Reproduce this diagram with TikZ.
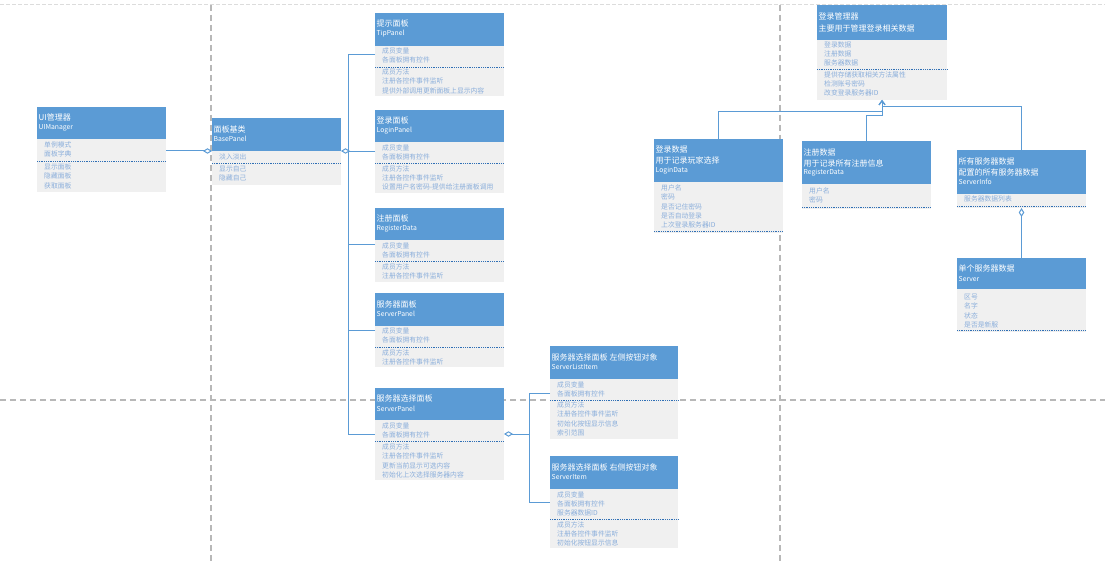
\documentclass[tikz,border=0pt]{standalone}
\usepackage{fontspec}
\setmainfont{Noto Sans CJK SC}
\usetikzlibrary{arrows.meta,calc}
\definecolor{hblue}{HTML}{5B9BD5}
\definecolor{bgray}{HTML}{F0F0F0}
\definecolor{btext}{HTML}{8AAEDB}
\definecolor{sepblue}{HTML}{2F6FB5}
\definecolor{dgray}{HTML}{B8B8B8}
\definecolor{lgray}{HTML}{DCDCDC}
\tikzset{
 hdr/.style={fill=hblue, draw=none, anchor=north west, inner sep=0pt, outer sep=0pt},
 bdy/.style={fill=bgray, draw=none, anchor=north west, inner sep=0pt, outer sep=0pt},
 ttl/.style={text=white, anchor=west, inner sep=0pt, font=\fontsize{8}{9}\selectfont},
 cname/.style={text=white, anchor=west, inner sep=0pt, font=\fontsize{6.8}{8}\selectfont},
 btxt/.style={text=btext, anchor=west, inner sep=0pt, font=\fontsize{6.8}{7.5}\selectfont},
 sepline/.style={draw=sepblue, line width=0.7pt, dash pattern=on 0.9pt off 0.9pt},
 conn/.style={draw=hblue, line width=1pt},
 agg/.style={conn, {Diamond[fill=white,length=9pt,width=5.5pt]}-},
 dep/.style={conn, -{Straight Barb[length=4pt,width=6pt]}},
 gridl/.style={draw=dgray, line width=1.1pt, dash pattern=on 6pt off 4pt},
 topl/.style={draw=lgray, line width=1pt, dash pattern=on 4pt off 2pt},
}
\newcommand\umlclass[6]{%
 \node[hdr, minimum width={(#3-#2)*1pt}, minimum height={(#5-#4)*1pt}] (#1h) at (#2,#4) {};
 \node[bdy, minimum width={(#3-#2)*1pt}, minimum height={(#6-#5)*1pt}] (#1b) at (#2,#5) {};}
\newcommand\txtlines[5]{%
 \foreach \t [count=\i from 0] in {#5}{\node[#2] (#1\i) at (#3,{#4+9.3*\i}) {\t};}}
\begin{document}
\begin{tikzpicture}[x=1pt,y=-1pt]
\fill[white] (0,0) rectangle (1105,561);
\useasboundingbox (0,0) rectangle (1105,561);
% grid lines
\draw[topl] (0,5) -- (1105,5);
\draw[gridl] (0,400) -- (1105,400);
\draw[gridl] (211,5) -- (211,561);
\draw[gridl] (780,5) -- (780,561);

% UIManager
\umlclass{uim}{37}{166}{107}{139}{192}
\node[ttl] (uimt1) at (38.5,117) {UI管理器};
\node[cname] (uimt2) at (38.5,128) {UIManager};
\txtlines{uima}{btxt}{44}{145}{单例模式,面板字典}
\draw[sepline] (37,161) -- (166,161);
\txtlines{uimm}{btxt}{44}{167}{显示面板,隐藏面板,获取面板}

% BasePanel
\umlclass{base}{212}{341}{118}{151}{185}
\node[ttl] (baset1) at (213.5,129) {面板基类};
\node[cname] (baset2) at (213.5,139) {BasePanel};
\txtlines{basea}{btxt}{219}{157}{淡入淡出}
\draw[sepline] (212,163) -- (341,163);
\txtlines{basem}{btxt}{219}{169}{显示自己,隐藏自己}

% TipPanel
\umlclass{tip}{375}{504}{13}{46}{96}
\node[ttl] (tipt1) at (376.5,23) {提示面板};
\node[cname] (tipt2) at (376.5,34) {TipPanel};
\txtlines{tipa}{btxt}{382}{51}{成员变量,各面板拥有控件}
\draw[sepline] (375,67) -- (504,67);
\txtlines{tipm}{btxt}{382}{72}{成员方法,注册各控件事件监听,提供外部调用更新面板上显示内容}

% LoginPanel
\umlclass{login}{375}{504}{110}{142}{193}
\node[ttl] (logint1) at (376.5,120) {登录面板};
\node[cname] (logint2) at (376.5,131) {LoginPanel};
\txtlines{logina}{btxt}{382}{148}{成员变量,各面板拥有控件}
\draw[sepline] (375,163.5) -- (504,163.5);
\txtlines{loginm}{btxt}{382}{168.5}{成员方法,注册各控件事件监听,设置用户名密码-提供给注册面板调用}

% Register panel
\umlclass{reg}{375}{504}{208}{240}{282}
\node[ttl] (regt1) at (376.5,218) {注册面板};
\node[cname] (regt2) at (376.5,229) {RegisterData};
\txtlines{rega}{btxt}{382}{246}{成员变量,各面板拥有控件}
\draw[sepline] (375,261) -- (504,261);
\txtlines{regm}{btxt}{382}{267}{成员方法,注册各控件事件监听}

% Server panel
\umlclass{srv}{375}{504}{293}{326}{367}
\node[ttl] (srvt1) at (376.5,304) {服务器面板};
\node[cname] (srvt2) at (376.5,314) {ServerPanel};
\txtlines{srva}{btxt}{382}{331}{成员变量,各面板拥有控件}
\draw[sepline] (375,347) -- (504,347);
\txtlines{srvm}{btxt}{382}{352.5}{成员方法,注册各控件事件监听}

% Server select panel
\umlclass{sel}{375}{504}{388}{420}{480}
\node[ttl] (selt1) at (376.5,398) {服务器选择面板};
\node[cname] (selt2) at (376.5,409) {ServerPanel};
\txtlines{sela}{btxt}{382}{426}{成员变量,各面板拥有控件}
\draw[sepline] (375,441) -- (504,441);
\txtlines{selm}{btxt}{382}{447}{成员方法,注册各控件事件监听,更新当前显示可选内容,初始化上次选择服务器内容}

% ServerListItem
\umlclass{sli}{550}{678}{346}{379}{439}
\node[ttl] (slit1) at (551.5,357) {服务器选择面板 左侧按钮对象};
\node[cname] (slit2) at (551.5,367) {ServerListItem};
\txtlines{slia}{btxt}{557}{384.5}{成员变量,各面板拥有控件}
\draw[sepline] (550,400.5) -- (678,400.5);
\txtlines{slim}{btxt}{557}{405}{成员方法,注册各控件事件监听,初始化按钮显示信息,索引范围}

% ServerItem
\umlclass{sit}{550}{678}{456}{489}{548}
\node[ttl] (sitt1) at (551.5,467) {服务器选择面板 右侧按钮对象};
\node[cname] (sitt2) at (551.5,477) {ServerItem};
\txtlines{sita}{btxt}{557}{494.5}{成员变量,各面板拥有控件,服务器数据ID}
\draw[sepline] (550,519) -- (678,519);
\txtlines{sitm}{btxt}{557}{524.5}{成员方法,注册各控件事件监听,初始化按钮显示信息}

% Login manager
\umlclass{lmgr}{817}{947}{5}{40}{100}
\node[ttl] (lmgrt1) at (818.5,16.5) {登录管理器};
\node[ttl] (lmgrt2) at (818.5,28.5) {主要用于管理登录相关数据};
\txtlines{lmgra}{btxt}{824}{44.5}{登录数据,注册数据,服务器数据}
\draw[sepline] (817,69) -- (947,69);
\txtlines{lmgrm}{btxt}{824}{74.5}{提供存储获取相关方法属性,检测账号密码,改变登录服务器ID}

% LoginData
\umlclass{ldata}{654}{783}{139}{182}{233}
\node[ttl] (ldatat1) at (655.5,149.5) {登录数据};
\node[ttl] (ldatat2) at (655.5,160.5) {用于记录玩家选择};
\node[cname] (ldatat3) at (655.5,171) {LoginData};
\txtlines{ldataa}{btxt}{661}{188}{用户名,密码,是否记住密码,是否自动登录,上次登录服务器ID}
\draw[sepline] (654,231) -- (783,231);

% RegisterData
\umlclass{rdata}{802}{931}{141}{184}{209}
\node[ttl] (rdatat1) at (803.5,152) {注册数据};
\node[ttl] (rdatat2) at (803.5,163) {用于记录所有注册信息};
\node[cname] (rdatat3) at (803.5,173) {RegisterData};
\txtlines{rdataa}{btxt}{809}{191}{用户名,密码}
\draw[sepline] (802,207) -- (931,207);

% ServerInfo
\umlclass{sinfo}{957}{1086}{150}{194}{208}
\node[ttl] (sinfot1) at (958.5,161) {所有服务器数据};
\node[ttl] (sinfot2) at (958.5,172) {配置的所有服务器数据};
\node[cname] (sinfot3) at (958.5,182) {ServerInfo};
\txtlines{sinfoa}{btxt}{964}{199}{服务器数据列表}
\draw[sepline] (957,206) -- (1086,206);

% Server
\umlclass{server}{957}{1086}{258}{289}{332}
\node[ttl] (servert1) at (958.5,268) {单个服务器数据};
\node[cname] (servert2) at (958.5,279) {Server};
\txtlines{servera}{btxt}{964}{297}{区号,名字,状态,是否是新服}
\draw[sepline] (957,330) -- (1086,330);

% connectors
\coordinate (tx) at (348,0);
\coordinate (tx2) at (529,0);
\draw[agg] (baseh.south west) -- (uimb.east |- baseh.south west);
\draw[agg] (baseh.south east) -- (tx |- baseh.south east);
\coordinate (tipA) at ($(tipb.north west)+(0,9)$);
\coordinate (loginA) at ($(loginb.north west)+(0,10)$);
\coordinate (regA) at ($(regb.north west)+(0,5)$);
\coordinate (srvA) at ($(srvb.north west)+(0,4)$);
\coordinate (selA) at ($(selb.north west)+(0,14)$);
\draw[conn] (tipA) -- (tipA -| tx) -- (selA -| tx) -- (selA);
\draw[conn] (loginA) -- (loginA -| tx);
\draw[conn] (regA) -- (regA -| tx);
\draw[conn] (srvA) -- (srvA -| tx);
\coordinate (selD) at ($(selb.north east)+(0,14)$);
\coordinate (sliA) at ($(slib.north west)+(0,14)$);
\coordinate (sitA) at ($(sitb.north west)+(0,13)$);
\draw[agg] (selD) -- (selD -| tx2);
\draw[conn] (sliA) -- (sliA -| tx2) -- (sitA -| tx2) -- (sitA);
\draw[dep] (ldatah.north) -- ++(0,-27) -| (lmgrb.south);
\draw[dep] (rdatah.north) -- ++(0,-25) -| (lmgrb.south);
\draw[dep] (sinfoh.north) -- ++(0,-43) -| (lmgrb.south);
\draw[agg] (sinfob.south) -- (serverh.north);
\end{tikzpicture}
\end{document}
